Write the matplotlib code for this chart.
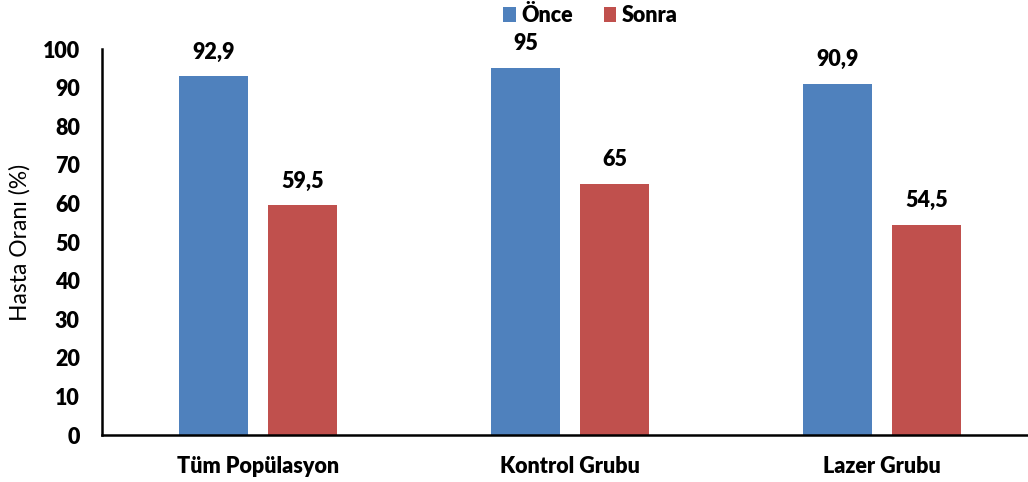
import matplotlib.pyplot as plt
import numpy as np

plt.rcParams['font.family'] = ['Lato', 'DejaVu Sans']

categories = ['Tüm Popülasyon', 'Kontrol Grubu', 'Lazer Grubu']
once = [92.9, 95, 90.9]
sonra = [59.5, 65, 54.5]
once_labels = ['92,9', '95', '90,9']
sonra_labels = ['59,5', '65', '54,5']

FS = 15.5
WT = 'heavy'

fig = plt.figure(figsize=(10.28, 4.82), dpi=100)
ax = fig.add_axes([0.0992, 0.0975, 0.9105, 0.8008])

x = np.arange(len(categories))
w = 0.222
off = 0.143
b1 = ax.bar(x - off, once, w, color='#4F81BD', label='Önce')
b2 = ax.bar(x + off, sonra, w, color='#C0504D', label='Sonra')

for rect, lab in zip(b1, once_labels):
    ax.text(rect.get_x() + rect.get_width() / 2, rect.get_height() + 3.6, lab,
            ha='center', va='bottom', fontsize=FS, fontweight=WT)
for rect, lab in zip(b2, sonra_labels):
    ax.text(rect.get_x() + rect.get_width() / 2, rect.get_height() + 3.6, lab,
            ha='center', va='bottom', fontsize=FS, fontweight=WT)

ax.set_xlim(-0.5, 2.5)
ax.set_ylim(0, 100)
ax.set_yticks(range(0, 101, 10))
ax.set_xticks(x)
ax.set_xticklabels(categories, fontsize=FS, fontweight=WT)
for t in ax.get_yticklabels():
    t.set_fontsize(FS)
    t.set_fontweight(WT)
ax.tick_params(axis='both', length=0)
ax.tick_params(axis='y', pad=16)
ax.tick_params(axis='x', pad=15)
ax.set_ylabel('Hasta Oranı (%)', fontsize=16.5)
ax.yaxis.set_label_coords(-0.076, 0.5)

for s in ['top', 'right']:
    ax.spines[s].set_visible(False)
ax.spines['left'].set_linewidth(1.8)
ax.spines['bottom'].set_linewidth(1.8)

leg = ax.legend(loc='upper center', bbox_to_anchor=(0.522, 1.125), ncol=2, frameon=False,
                prop={'weight': WT, 'size': FS}, handlelength=0.6, handleheight=0.7,
                handletextpad=0.25, columnspacing=1.4, borderaxespad=0, borderpad=0.2)

fig.savefig('out.png', dpi=100)
